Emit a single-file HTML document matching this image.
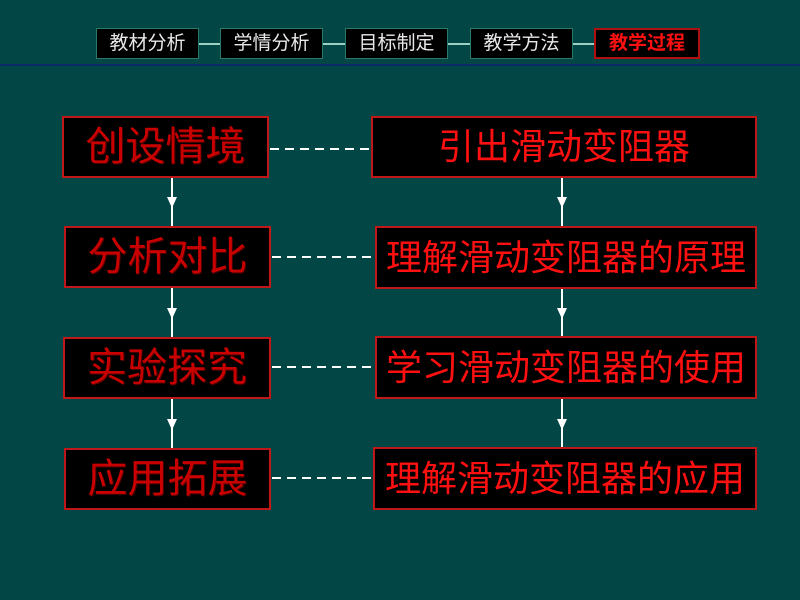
<!DOCTYPE html>
<html><head><meta charset="utf-8"><style>
body{margin:0;width:800px;height:600px;background:#034646;position:relative;overflow:hidden;font-family:"Liberation Sans","Noto Sans CJK SC",sans-serif}
.n{position:absolute;top:28px;height:31px;background:#000;border:1px solid #2a7a6a;box-sizing:border-box;color:#e8e8e8;font-size:19px;font-weight:400;line-height:29px;text-align:center;white-space:nowrap}
.n.a{border:2px solid #b01010;color:#ff1010;font-weight:bold;line-height:27px}
.b{position:absolute;background:#000;border:2px solid #c01818;box-sizing:border-box;text-align:center;white-space:nowrap}
.l{font-size:40px;color:#c80000;text-shadow:1px 1px 0 #4a0000;font-weight:400}
.r{font-size:36px;color:#ff1010;font-weight:400}
svg{position:absolute;left:0;top:0}
</style></head><body>
<svg width="800" height="600">
<line x1="0" y1="65" x2="800" y2="65" stroke="#0a2a6a" stroke-width="2"/>
<g stroke="#cfe" stroke-width="1.5"><line x1="199" y1="44" x2="220" y2="44"/><line x1="323" y1="44" x2="345" y2="44"/><line x1="448" y1="44" x2="470" y2="44"/><line x1="573" y1="44" x2="594" y2="44"/></g>
<g stroke="#fff" stroke-width="2" stroke-dasharray="9,6">
<line x1="270" y1="149" x2="372" y2="149"/><line x1="272" y1="257" x2="375" y2="257"/><line x1="272" y1="367" x2="375" y2="367"/><line x1="272" y1="478" x2="373" y2="478"/></g>
<g stroke="#fff" stroke-width="2">
<line x1="172" y1="177" x2="172" y2="226"/><line x1="172" y1="288" x2="172" y2="337"/><line x1="172" y1="398" x2="172" y2="448"/>
<line x1="562" y1="177" x2="562" y2="226"/><line x1="562" y1="288" x2="562" y2="337"/><line x1="562" y1="398" x2="562" y2="448"/></g>
<g fill="#fff">
<polygon points="167,197 177,197 172,208"/><polygon points="167,308 177,308 172,319"/><polygon points="167,419 177,419 172,430"/>
<polygon points="557,197 567,197 562,208"/><polygon points="557,308 567,308 562,319"/><polygon points="557,419 567,419 562,430"/></g>
</svg>
<div class="n" style="left:96px;width:103px">教材分析</div>
<div class="n" style="left:220px;width:103px">学情分析</div>
<div class="n" style="left:345px;width:103px">目标制定</div>
<div class="n" style="left:470px;width:103px">教学方法</div>
<div class="n a" style="left:594px;width:106px">教学过程</div>
<div class="b l" style="left:62px;top:116px;width:207px;height:62px;line-height:58px">创设情境</div>
<div class="b l" style="left:64px;top:226px;width:207px;height:62px;line-height:58px">分析对比</div>
<div class="b l" style="left:63px;top:337px;width:208px;height:62px;line-height:58px">实验探究</div>
<div class="b l" style="left:64px;top:448px;width:207px;height:62px;line-height:58px">应用拓展</div>
<div class="b r" style="left:371px;top:116px;width:386px;height:62px;line-height:58px">引出滑动变阻器</div>
<div class="b r" style="left:375px;top:226px;width:382px;height:63px;line-height:59px">理解滑动变阻器的原理</div>
<div class="b r" style="left:375px;top:336px;width:382px;height:63px;line-height:59px">学习滑动变阻器的使用</div>
<div class="b r" style="left:373px;top:447px;width:384px;height:63px;line-height:59px">理解滑动变阻器的应用</div>
</body></html>
